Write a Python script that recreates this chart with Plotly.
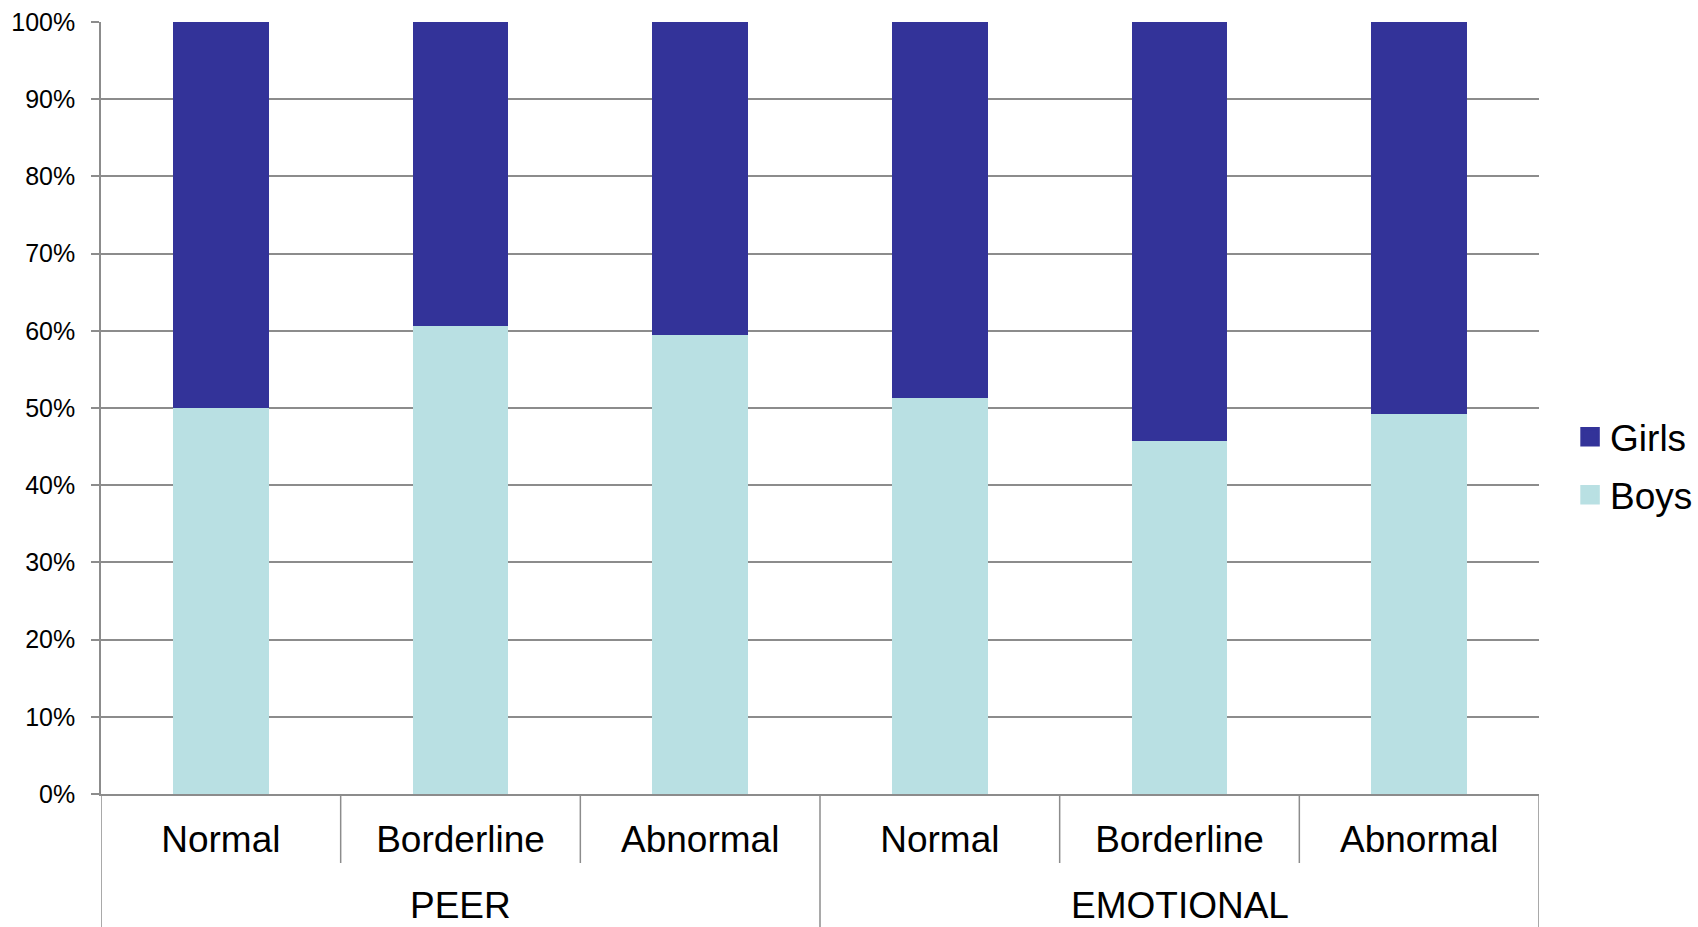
import plotly.graph_objects as go

# Share of boys and girls (%) within each score band of two scales
groups = ["PEER", "EMOTIONAL"]
bands = ["Normal", "Borderline", "Abnormal", "Normal", "Borderline", "Abnormal"]
boys = [50.0, 60.6, 59.5, 51.3, 45.7, 49.2]
girls = [100 - b for b in boys]

FONT = "Liberation Sans, Arial, Helvetica, sans-serif"
GRID = "#8c8c8c"
BOYS_COLOR = "#b9e0e3"
GIRLS_COLOR = "#333399"
PLOT_H = 772  # height of the plotting area in px, used to express label offsets in paper units

pos = list(range(len(bands)))
per_group = len(bands) // len(groups)

fig = go.Figure()
fig.add_trace(go.Bar(x=pos, y=boys, name="Boys", showlegend=False,
                     marker=dict(color=BOYS_COLOR, line=dict(width=0))))
fig.add_trace(go.Bar(x=pos, y=girls, name="Girls", showlegend=False,
                     marker=dict(color=GIRLS_COLOR, line=dict(width=0))))

# Legend keys drawn as larger square swatches
for rank, (name, color) in enumerate([("Girls", GIRLS_COLOR), ("Boys", BOYS_COLOR)]):
    fig.add_trace(go.Scatter(x=[None], y=[None], mode="markers", name=name,
                             legendgroup=name, legendrank=rank + 1, hoverinfo="skip",
                             marker=dict(symbol="square", size=16, color=color,
                                         line=dict(color=color, width=3.5))))

# Divider lines below the axis: short ones between bands, long ones around each scale group
for i in range(len(bands) + 1):
    xb = i - 0.5
    is_group_edge = i % per_group == 0
    fig.add_shape(type="line", xref="x", yref="paper", x0=xb, x1=xb,
                  y0=0, y1=(-133 if is_group_edge else -69) / PLOT_H,
                  line=dict(color=GRID, width=1.5), layer="above")

# Scale names centred under their three bands
for g, name in enumerate(groups):
    fig.add_annotation(x=g * per_group + (per_group - 1) / 2, xref="x",
                       y=-111 / PLOT_H, yref="paper", yanchor="middle",
                       text=name, showarrow=False,
                       font=dict(size=37, family=FONT, color="black"))

fig.update_layout(
    width=1698, height=927,
    barmode="stack", bargap=0.6,
    plot_bgcolor="white", paper_bgcolor="white",
    margin=dict(l=101, r=159, t=22, b=133, autoexpand=False),
    font=dict(family=FONT, color="black"),
    showlegend=True,
    legend=dict(traceorder="grouped", tracegroupgap=7,
                x=1.0216, xanchor="left", y=0.4247, yanchor="middle",
                font=dict(size=37, family=FONT), bgcolor="rgba(0,0,0,0)"),
    yaxis=dict(range=[0, 100], dtick=10, ticksuffix="%", showgrid=True,
               gridcolor=GRID, gridwidth=1.5, showline=True, linecolor=GRID, linewidth=1.5,
               ticks="outside", ticklen=8, tickcolor=GRID, tickwidth=1.5,
               tickfont=dict(size=25, family=FONT), ticklabelstandoff=11, zeroline=False),
    xaxis=dict(range=[-0.5, len(bands) - 0.5], tickvals=pos, ticktext=bands,
               showline=True, linecolor=GRID, linewidth=1.5, showgrid=False,
               zeroline=False, ticks="", ticklabelstandoff=12,
               tickfont=dict(size=37, family=FONT)),
)

fig.write_html("out.html")
